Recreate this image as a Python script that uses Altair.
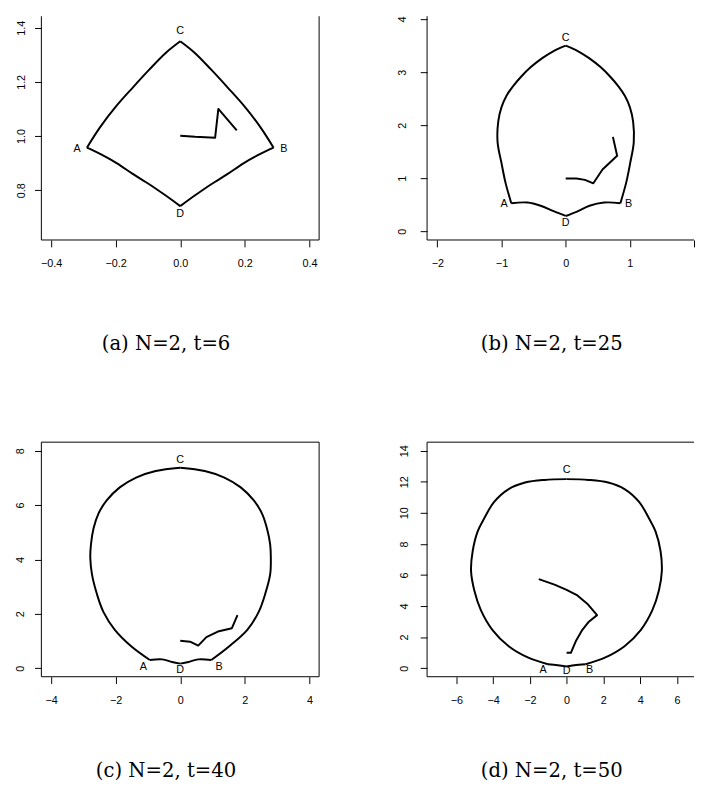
import altair as alt
import pandas as pd

# ---------------- Panel (a) N=2, t=6 ----------------
A_BX = [-0.289, -0.248, -0.197, -0.147, -0.096, -0.046, 0.0, 0.046, 0.096, 0.147, 0.197, 0.248, 0.289,
        0.248, 0.197, 0.147, 0.096, 0.046, 0.0, -0.046, -0.096, -0.147, -0.197, -0.248, -0.289]
A_BY = [0.957, 1.033, 1.112, 1.179, 1.245, 1.306, 1.350, 1.306, 1.245, 1.179, 1.112, 1.033, 0.957,
        0.934, 0.900, 0.860, 0.822, 0.781, 0.741, 0.781, 0.822, 0.860, 0.900, 0.934, 0.957]
A_ARCS = [0, 6, 12, 18, 24]          # indices of the corners A, C, B, D, A
A_PX = [0.0, 0.046, 0.108, 0.118, 0.175]
A_PY = [1.001, 0.997, 0.994, 1.100, 1.021]
A_LX = [-0.319, 0.321, 0.0, 0.0]
A_LY = [0.952, 0.952, 1.388, 0.711]
A_XTICKS = [-0.4, -0.2, 0.0, 0.2, 0.4]
A_YTICKS = [0.8, 1.0, 1.2, 1.4]
A_XDOM = [-0.430, 0.430]
A_YDOM = [0.616, 1.4425]

# ---------------- Panel (b) N=2, t=25 ----------------
B_BX = [-0.848, -0.939, -1.0, -1.061, -1.051, -1.0, -0.924, -0.822, -0.695, -0.543, -0.365, -0.188, 0.0,
        0.188, 0.365, 0.543, 0.695, 0.822, 0.924, 1.0, 1.051, 1.061, 1.005, 0.944, 0.853,
        0.599, 0.371, 0.168, 0.0, -0.188, -0.391, -0.594, -0.848]
B_BY = [0.531, 0.923, 1.285, 1.677, 2.069, 2.341, 2.552, 2.733, 2.914, 3.095, 3.264, 3.397, 3.499,
        3.397, 3.264, 3.095, 2.914, 2.733, 2.552, 2.341, 2.069, 1.677, 1.285, 0.923, 0.531,
        0.543, 0.483, 0.368, 0.290, 0.380, 0.483, 0.543, 0.531]
B_ARCS = [0, 12, 24, 28, 32]
B_PX = [0.0, 0.168, 0.300, 0.431, 0.574, 0.802, 0.736]
B_PY = [0.995, 0.995, 0.970, 0.905, 1.164, 1.424, 1.780]
B_LX = [-0.959, 0.980, 0.0, 0.0]
B_LY = [0.519, 0.519, 3.650, 0.157]
B_XTICKS = [-2, -1, 0, 1, 2]
B_YTICKS = [0, 1, 2, 3, 4]
B_XDOM = [-2.16, 2.0]
B_YDOM = [-0.163, 4.054]

# ---------------- Panel (c) N=2, t=40 ----------------
C_BX = [-0.942, -1.519, -2.025, -2.380, -2.582, -2.734, -2.785, -2.765, -2.684, -2.532, -2.278, -1.873, -1.367, -0.759, 0.0,
        0.759, 1.367, 1.873, 2.278, 2.532, 2.684, 2.785, 2.805, 2.785, 2.632, 2.430, 2.076, 1.519, 0.962,
        0.557, 0.253, 0.0, -0.253, -0.557, -0.942]
C_BY = [0.301, 0.807, 1.410, 2.072, 2.735, 3.458, 4.060, 4.542, 5.145, 5.687, 6.169, 6.651, 7.012, 7.253, 7.373,
        7.253, 7.012, 6.651, 6.169, 5.687, 5.145, 4.542, 4.060, 3.458, 2.735, 2.072, 1.410, 0.807, 0.301,
        0.325, 0.229, 0.169, 0.229, 0.325, 0.301]
C_ARCS = [0, 14, 28, 31, 34]
C_PX = [0.0, 0.304, 0.557, 0.810, 1.165, 1.600, 1.772]
C_PY = [1.012, 0.976, 0.831, 1.145, 1.349, 1.470, 1.952]
C_LX = [-1.144, 1.205, 0.0, 0.0]
C_LY = [0.06, 0.06, 7.65, -0.06]
C_XTICKS = [-4, -2, 0, 2, 4]
C_YTICKS = [0, 2, 4, 6, 8]
C_XDOM = [-4.30, 4.30]
C_YDOM = [-0.314, 8.314]

# ---------------- Panel (d) N=2, t=50 ----------------
D_BX = [-1.015, -2.083, -3.151, -4.041, -4.664, -5.020, -5.198, -5.110, -4.842, -4.486, -3.952, -3.151, -2.261, -1.193, 0.0,
        1.193, 2.261, 3.151, 3.952, 4.486, 4.842, 5.110, 5.180, 5.020, 4.664, 4.041, 3.151, 2.083, 1.033,
        0.410, 0.0, -0.480, -1.015]
D_BY = [0.253, 0.675, 1.413, 2.467, 3.732, 4.997, 6.262, 7.527, 8.792, 9.635, 10.690, 11.530, 11.950, 12.120, 12.170,
        12.120, 11.950, 11.530, 10.690, 9.635, 8.792, 7.527, 6.262, 4.997, 3.732, 2.467, 1.413, 0.675, 0.253,
        0.190, 0.105, 0.190, 0.253]
D_ARCS = [0, 14, 28, 30, 32]
D_PX = [0.0, 0.231, 0.498, 0.855, 1.211, 1.656, 1.122, 0.587, 0.0, -0.659, -1.513]
D_PY = [0.991, 0.991, 1.729, 2.467, 2.994, 3.416, 4.154, 4.681, 5.039, 5.376, 5.735]
D_LX = [-1.28, 1.246, 0.0, 0.0]
D_LY = [-0.105, -0.105, 12.76, -0.169]
D_XTICKS = [-6, -4, -2, 0, 2, 4, 6]
D_YTICKS = [0, 2, 4, 6, 8, 10, 12, 14]
D_XDOM = [-7.59, 6.93]
D_YDOM = [-0.55, 14.55]

VERTEX_LABELS = ["A", "B", "C", "D"]
CAPTIONS = ["(a) N=2, t=6", "(b) N=2, t=25", "(c) N=2, t=40", "(d) N=2, t=50"]


def arcs_table(bx, by, arcs):
    rows = []
    for k in range(len(arcs) - 1):
        for j in range(arcs[k], arcs[k + 1] + 1):
            rows.append({"x": bx[j], "y": by[j], "i": j, "arc": k})
    return pd.DataFrame(rows)


def panel(bx, by, arcs, px, py, lx, ly, xdom, ydom, xt, yt, fmt_x, fmt_y, ypad, caption,
          w, h, sides, cap_dx, cap_offset, xlabel_expr="datum.label"):
    bdf = arcs_table(bx, by, arcs)
    pdf = pd.DataFrame({"x": px, "y": py, "i": list(range(len(px)))})
    ldf = pd.DataFrame({"x": lx, "y": ly, "t": VERTEX_LABELS})
    xs = alt.Scale(domain=xdom, nice=False, zero=False)
    ys = alt.Scale(domain=ydom, nice=False, zero=False)
    xax = alt.Axis(values=xt, tickCount=len(xt) + 2, format=fmt_x, title=None, labelPadding=11,
                   labelOverlap=False, labelFlush=False, labelExpr=xlabel_expr)
    yax = alt.Axis(values=yt, tickCount=len(yt) + 2, format=fmt_y, title=None, labelAngle=270,
                   labelAlign="center", labelBaseline="alphabetic", labelPadding=ypad,
                   labelOverlap=False, labelFlush=False)
    xenc = alt.X("x:Q", scale=xs, axis=xax)
    yenc = alt.Y("y:Q", scale=ys, axis=yax)
    boundary = alt.Chart(bdf).mark_line(color="black", strokeWidth=2, strokeJoin="round",
                                        interpolate="catmull-rom").encode(
        x=xenc, y=yenc, order="i:Q", detail="arc:N",
    )
    path = alt.Chart(pdf).mark_line(color="black", strokeWidth=2, strokeJoin="round").encode(
        x=xenc, y=yenc, order="i:Q",
    )
    labels = alt.Chart(ldf).mark_text(font="Liberation Sans", fontSize=11, color="black",
                                      baseline="middle", align="center").encode(
        x=xenc, y=yenc, text="t:N",
    )
    layers = [boundary, path, labels]
    # plot frame (only the sides that are visible in the figure)
    frame = alt.Chart(pd.DataFrame({"k": [0]})).mark_rule(color="black", strokeWidth=1)
    if "left" in sides:
        layers.append(frame.encode(x=alt.datum(xdom[0]), y=alt.datum(ydom[0]), y2=alt.datum(ydom[1])))
    if "right" in sides:
        layers.append(frame.encode(x=alt.datum(xdom[1]), y=alt.datum(ydom[0]), y2=alt.datum(ydom[1])))
    if "bottom" in sides:
        layers.append(frame.encode(y=alt.datum(ydom[0]), x=alt.datum(xdom[0]), x2=alt.datum(xdom[1])))
    if "top" in sides:
        layers.append(frame.encode(y=alt.datum(ydom[1]), x=alt.datum(xdom[0]), x2=alt.datum(xdom[1])))
    return alt.layer(*layers).properties(
        width=w, height=h,
        title=alt.TitleParams(caption, orient="bottom", anchor="middle", frame="group",
                              offset=cap_offset, dx=cap_dx, font="DejaVu Serif", fontSize=20,
                              fontWeight="normal", color="black"),
    )


pa = panel(A_BX, A_BY, A_ARCS, A_PX, A_PY, A_LX, A_LY, A_XDOM, A_YDOM,
           A_XTICKS, A_YTICKS, ".1f", ".1f", 10, CAPTIONS[0],
           283, 228, ("left", "right", "bottom"), -14.5, 67)
pb = panel(B_BX, B_BY, B_ARCS, B_PX, B_PY, B_LX, B_LY, B_XDOM, B_YDOM,
           B_XTICKS, B_YTICKS, "d", "d", 15, CAPTIONS[1],
           272, 228, ("left", "bottom"), -9, 67,
           xlabel_expr="datum.value >= 2 ? '' : datum.label")
pc = panel(C_BX, C_BY, C_ARCS, C_PX, C_PY, C_LX, C_LY, C_XDOM, C_YDOM,
           C_XTICKS, C_YTICKS, "d", "d", 11, CAPTIONS[2],
           283, 239, ("left", "right", "bottom", "top"), -14.5, 57)
pd_ = panel(D_BX, D_BY, D_ARCS, D_PX, D_PY, D_LX, D_LY, D_XDOM, D_YDOM,
            D_XTICKS, D_YTICKS, "d", "d", 13, CAPTIONS[3],
            272, 239, ("left", "bottom", "top"), -9, 57)

chart = alt.concat(pa, pb, pc, pd_, columns=2, spacing={"row": 206, "column": 110},
                   bounds="flush").properties(
    padding={"left": 6, "top": 0, "right": 0, "bottom": 0},
    background="white",
).configure_view(
    strokeWidth=0,
).configure_axis(
    domain=False, grid=False, ticks=True, tickSize=7, tickColor="black", tickWidth=1,
    labelFont="Liberation Sans", labelFontSize=11, labelColor="black",
    labelFlush=False, labelOverlap=False,
)

chart.save("out.html", embed_options={"renderer": "svg", "actions": False})
